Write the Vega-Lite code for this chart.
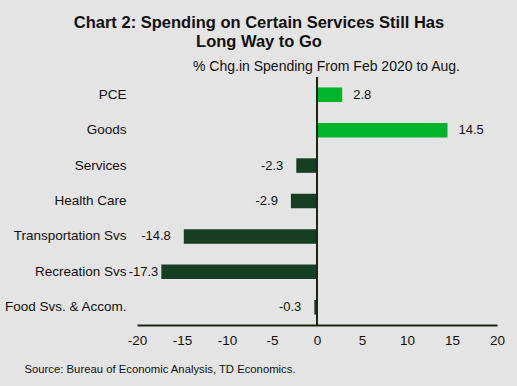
{
  "$schema": "https://vega.github.io/schema/vega-lite/v6.json",
  "width": 360,
  "height": 248,
  "autosize": "none",
  "padding": {"left": 137, "top": 77, "right": 20, "bottom": 61},
  "background": "#e4e4e4",
  "title": {
    "text": ["Chart 2: Spending on Certain Services Still Has", "Long Way to Go"],
    "font": "Liberation Sans",
    "fontSize": 16.5,
    "fontWeight": "bold",
    "color": "#111111",
    "anchor": "middle",
    "frame": "group",
    "dx": -58,
    "lineHeight": 19,
    "offset": 9
  },
  "config": {
    "view": {"stroke": null},
    "font": "Liberation Sans",
    "axis": {"grid": false, "labelFont": "Liberation Sans", "titleFont": "Liberation Sans", "labelColor": "#111111", "titleColor": "#111111"}
  },
  "data": {
    "values": [
      {"category": "PCE", "value": 2.8},
      {"category": "Goods", "value": 14.5},
      {"category": "Services", "value": -2.3},
      {"category": "Health Care", "value": -2.9},
      {"category": "Transportation Svs", "value": -14.8},
      {"category": "Recreation Svs", "value": -17.3},
      {"category": "Food Svs. & Accom.", "value": -0.3}
    ]
  },
  "resolve": {"axis": {"x": "independent"}},
  "layer": [
    {
      "mark": {"type": "bar"},
      "encoding": {
        "y": {
          "field": "category", "type": "nominal", "sort": null,
          "scale": {"paddingInner": 0.59, "paddingOuter": 0.295},
          "axis": {"title": null, "domain": false, "ticks": false, "labelPadding": 11, "labelFontSize": 13.5}
        },
        "x": {
          "field": "value", "type": "quantitative",
          "scale": {"domain": [-20, 20], "nice": false},
          "axis": {
            "orient": "bottom", "values": [-20, -15, -10, -5, 0, 5, 10, 15, 20],
            "labelExpr": "'' + datum.value",
            "labelFlush": false, "labelOverlap": false,
            "ticks": false, "domainColor": "#1c2414", "domainWidth": 2,
            "labelFontSize": 13.5, "labelPadding": 8,
            "title": "Source:  Bureau  of Economic  Analysis, TD  Economics.",
            "titleFontSize": 11.3, "titleFontWeight": "normal",
            "titleAnchor": "start", "titleAlign": "left", "titleBaseline": "alphabetic",
            "titleX": -113, "titleY": 47
          }
        },
        "color": {
          "condition": {"test": "datum.value >= 0", "value": "#00b52a"},
          "value": "#173d22"
        }
      }
    },
    {
      "mark": {"type": "rule", "color": "#1c2414", "strokeWidth": 2},
      "encoding": {
        "x": {
          "datum": 0, "type": "quantitative",
          "axis": {
            "orient": "top", "labels": false, "ticks": false, "domain": false,
            "title": "% Chg.in Spending From Feb 2020 to Aug.",
            "titleFontSize": 14, "titleFontWeight": "normal", "titlePadding": 4,
            "titleX": 189
          }
        }
      }
    },
    {
      "transform": [{"filter": "datum.value >= 0"}],
      "mark": {"type": "text", "align": "left", "baseline": "middle", "dx": 11, "fontSize": 13, "color": "#111111"},
      "encoding": {
        "y": {"field": "category", "type": "nominal", "sort": null},
        "x": {"field": "value", "type": "quantitative", "axis": null},
        "text": {"field": "value", "type": "nominal"}
      }
    },
    {
      "transform": [{"filter": "datum.value < 0 && datum.value > -16"}],
      "mark": {"type": "text", "align": "right", "baseline": "middle", "dx": -13, "fontSize": 13, "color": "#111111"},
      "encoding": {
        "y": {"field": "category", "type": "nominal", "sort": null},
        "x": {"field": "value", "type": "quantitative", "axis": null},
        "text": {"field": "value", "type": "nominal"}
      }
    },
    {
      "transform": [{"filter": "datum.value <= -16"}],
      "mark": {"type": "text", "align": "right", "baseline": "middle", "dx": -3, "fontSize": 13, "color": "#111111"},
      "encoding": {
        "y": {"field": "category", "type": "nominal", "sort": null},
        "x": {"field": "value", "type": "quantitative", "axis": null},
        "text": {"field": "value", "type": "nominal"}
      }
    }
  ]
}
